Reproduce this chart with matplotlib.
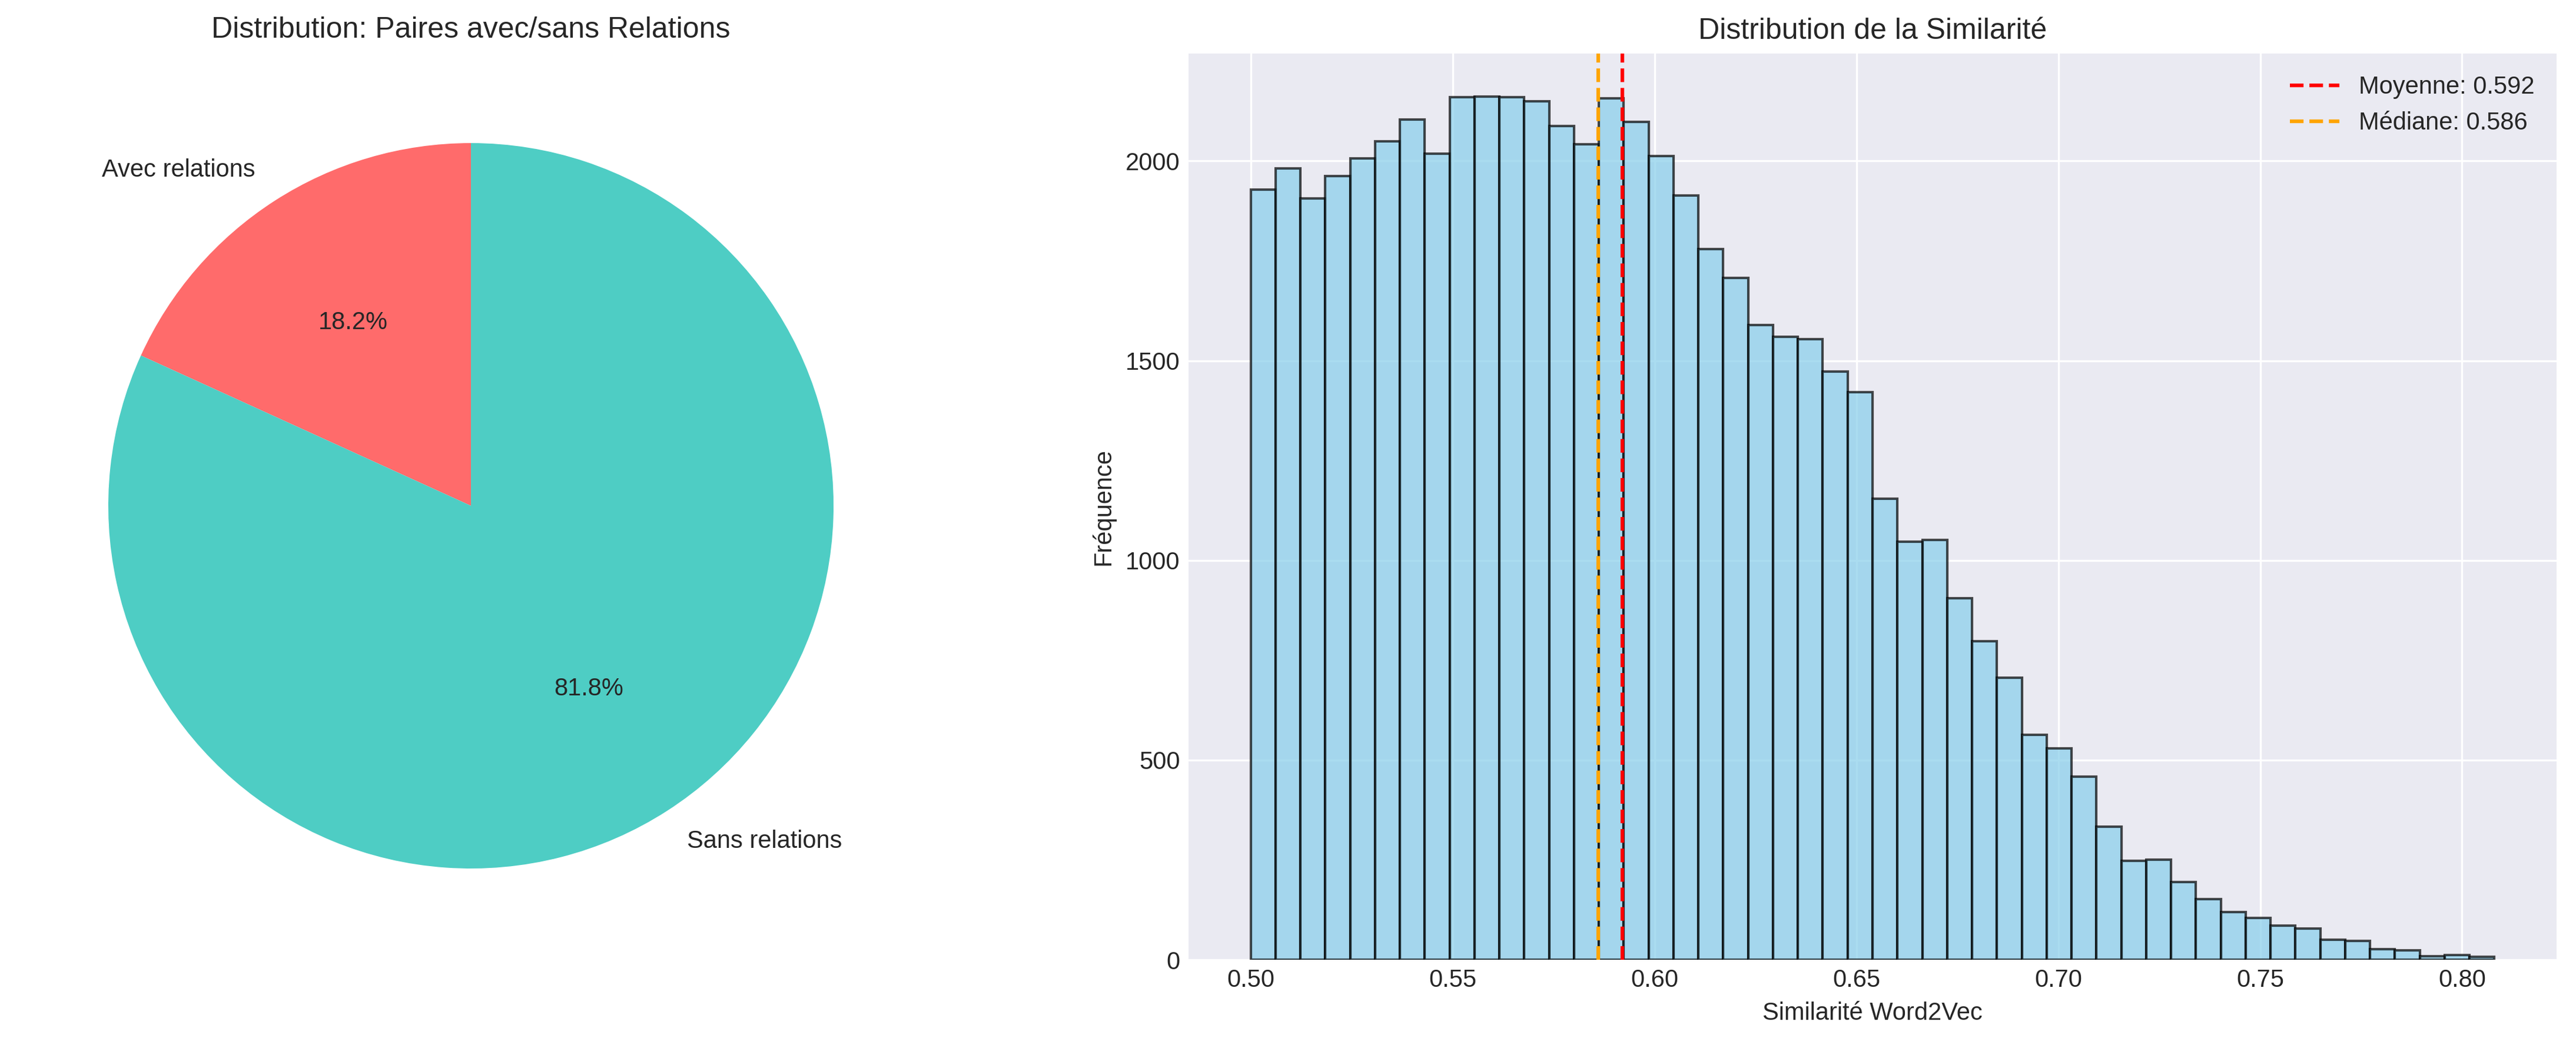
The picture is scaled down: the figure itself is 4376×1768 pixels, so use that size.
import numpy as np
import matplotlib
matplotlib.use("Agg")
import matplotlib.pyplot as plt

# ---- Data ----
pie_labels = ["Avec relations", "Sans relations"]
pie_values = [18.2, 81.8]
pie_colors = ["#FF6B6B", "#4ECDC4"]

sim_min = 0.500
sim_max = 0.808
hist_counts = [1928, 1982, 1907, 1962, 2006, 2050, 2104, 2018, 2160, 2161,
               2160, 2149, 2087, 2042, 2157, 2098, 2012, 1914, 1779, 1708,
               1589, 1560, 1554, 1473, 1422, 1155, 1047, 1051, 905, 797,
               706, 563, 530, 458, 333, 248, 251, 194, 152, 119,
               104, 86, 78, 50, 47, 27, 23, 9, 12, 8]
mean_sim = 0.592
median_sim = 0.586

plt.style.use("seaborn-v0_8-darkgrid")

W, H = 4376, 1768
fig = plt.figure(figsize=(W / 300, H / 300), dpi=300)

# Pie axes
ax1 = fig.add_axes([(800 - 770) / W, 1 - 1629 / H, 1540 / W, 1540 / H])
ax1.pie(pie_values, labels=pie_labels, colors=pie_colors, autopct="%1.1f%%",
        startangle=90, textprops={"fontsize": 10})
ax1.set_title("Distribution: Paires avec/sans Relations", fontsize=12)
ax1.set_aspect("equal")

# Histogram axes
ax2 = fig.add_axes([2019 / W, 1 - 1630 / H, (4343 - 2019) / W, (1630 - 91) / H])
edges = np.linspace(sim_min, sim_max, len(hist_counts) + 1)
ax2.hist(edges[:-1], bins=edges, weights=hist_counts, color="skyblue",
         alpha=0.7, edgecolor="black")
ax2.axvline(mean_sim, color="red", linestyle="--", label=f"Moyenne: {mean_sim:.3f}")
ax2.axvline(median_sim, color="orange", linestyle="--", label=f"Médiane: {median_sim:.3f}")
ax2.set_title("Distribution de la Similarité", fontsize=12)
ax2.set_xlabel("Similarité Word2Vec", fontsize=10)
ax2.set_ylabel("Fréquence", fontsize=10)
ax2.tick_params(labelsize=10)
ax2.legend(loc="upper right", fontsize=10)

fig.savefig("out.png", dpi=300)
